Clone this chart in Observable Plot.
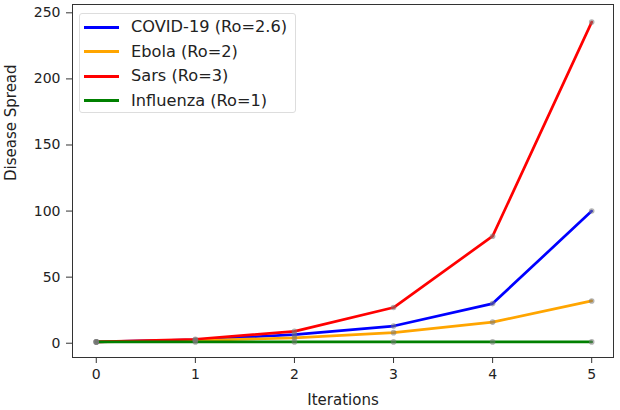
<!DOCTYPE html>
<html>
<head>
<meta charset="utf-8">
<script src="https://cdn.jsdelivr.net/npm/d3@7"></script>
<script src="https://cdn.jsdelivr.net/npm/@observablehq/plot@0.6"></script>
<style>
  html, body { margin: 0; padding: 0; background: #fff; }
  #wrap { position: relative; width: 620px; height: 410px; font-family: "DejaVu Sans", sans-serif; }
  #legend { position: absolute; left: 79px; top: 13px; width: 217px; height: 100px;
    border: 1px solid #ddd; border-radius: 3px; background: rgba(255,255,255,0.85); box-sizing: border-box; }
  .item { position: absolute; left: 0; height: 20px; }
  .item .sw { position: absolute; left: 4px; width: 35px; height: 3px; }
  .item .lb { position: absolute; left: 51px; white-space: nowrap; font-size: 16.2px; color: #222; line-height: 20px; top: 0; }
</style>
</head>
<body>
<div id="wrap"></div>
<script>
const iterations = [0, 1, 2, 3, 4, 5];
const seriesNames = ["COVID-19 (Ro=2.6)", "Ebola (Ro=2)", "Sars (Ro=3)", "Influenza (Ro=1)"];
const seriesColors = ["#0000ff", "#ffa500", "#ff0000", "#008000"];
const covid = [1, 2.6, 6.5, 13, 30, 100];
const ebola = [1, 2, 4, 8, 16, 32];
const sars = [1, 3, 9, 27, 81, 243];
const influenza = [1, 1, 1, 1, 1, 1];
const xTicks = [0, 1, 2, 3, 4, 5];
const yTicks = [0, 50, 100, 150, 200, 250];

const allSeries = [covid, ebola, sars, influenza];
const rows = [];
allSeries.forEach((vals, si) => {
  vals.forEach((v, i) => rows.push({series: seriesNames[si], x: iterations[i], y: v}));
});

const chart = Plot.plot({
  width: 620,
  height: 410,
  marginLeft: 72,
  marginRight: 7,
  marginTop: 4,
  marginBottom: 53,
  style: {fontFamily: "DejaVu Sans, sans-serif", fontSize: "14px", color: "#222", background: "#fff"},
  x: {domain: [-0.24, 5.22], label: null},
  y: {domain: [-10.8, 256.3], label: null},
  color: {domain: seriesNames, range: seriesColors},
  marks: [
    Plot.line(rows, {x: "x", y: "y", z: "series", stroke: "series", strokeWidth: 2.7}),
    Plot.dot(rows, {x: "x", y: "y", r: 2.8, fill: "#777", fillOpacity: 0.55, stroke: "none"}),
    Plot.frame({stroke: "#333", strokeWidth: 1}),
    Plot.axisX({ticks: xTicks, tickFormat: d3.format("d"), tickSize: 6, tickPadding: 6, label: null, fontSize: 14, stroke: "#333"}),
    Plot.axisY({ticks: yTicks, tickFormat: d3.format("d"), tickSize: 6, tickPadding: 6, label: null, fontSize: 14, stroke: "#333"}),
    Plot.text(["Iterations"], {frameAnchor: "bottom", dy: 47, fontSize: 15, fill: "#222"}),
    Plot.text(["Disease Spread"], {frameAnchor: "left", dx: -61, rotate: -90, fontSize: 15, fill: "#222"})
  ]
});

const wrap = document.getElementById("wrap");
wrap.appendChild(chart);

const legend = document.createElement("div");
legend.id = "legend";
const ys = [3, 27.5, 52, 76.5];
seriesNames.forEach((name, i) => {
  const it = document.createElement("div");
  it.className = "item";
  it.style.top = ys[i] + "px";
  it.style.width = "100%";
  const sw = document.createElement("div");
  sw.className = "sw";
  sw.style.background = seriesColors[i];
  sw.style.top = "8.5px";
  const lb = document.createElement("div");
  lb.className = "lb";
  lb.textContent = name;
  it.appendChild(sw);
  it.appendChild(lb);
  legend.appendChild(it);
});
wrap.appendChild(legend);
</script>
</body>
</html>
